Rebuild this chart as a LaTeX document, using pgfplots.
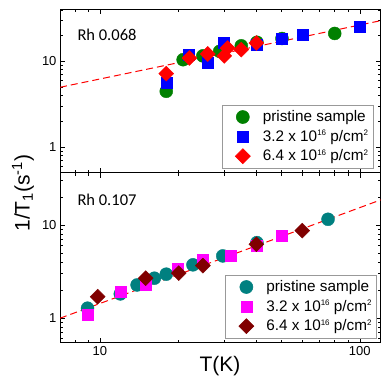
\documentclass[border=0pt]{standalone}
\usepackage{fontspec}
\setmainfont{Liberation Sans}
\newfontfamily\calib{Carlito}
\usepackage{pgfplots}
\pgfplotsset{compat=1.18}
\definecolor{cgreen}{RGB}{0,128,0}
\definecolor{cblue}{RGB}{0,0,255}
\definecolor{cred}{RGB}{255,0,0}
\definecolor{cteal}{RGB}{0,128,128}
\definecolor{cmag}{RGB}{255,0,255}
\definecolor{cbrown}{RGB}{128,0,0}
\newcommand{\sups}[1]{\raisebox{5.5pt}{\fontsize{8}{8}\selectfont #1}}
\pgfplotsset{
  myimg/.style={legend image code/.code={\path[draw=none,fill=none] (0pt,0pt) (36pt,0pt); \draw[##1] plot coordinates {(18pt,0pt)};}},
}
\begin{document}
\begin{tikzpicture}
\path[use as bounding box] (0pt,0pt) rectangle (392pt,-380pt);
\begin{axis}[at={(60pt,-9.3pt)}, anchor=north west,
    scale only axis, width=320.7pt, height=163.4pt,
    xmode=log, ymode=log,
    xmin=7.02, xmax=120.4, ymin=0.5, ymax=40.6,
    xtick={10,100}, xticklabels={}, minor xtick={7,8,9,20,30,40,50,60,70,80,90},
    ytick={1,10}, yticklabels={\mbox{1},\mbox{10}},
    minor ytick={0.5,0.6,0.7,0.8,0.9,2,3,4,5,6,7,8,9,20,30,40},
    tick align=inside, major tick length=5pt, minor tick length=3pt,
    axis line style={line width=0.8pt},
    tick style={black, line width=0.5pt},
    tick label style={font=\fontsize{13}{15}\selectfont},
    legend cell align=left,
    legend style={draw=gray!80, line width=0.6pt, font=\fontsize{15.3}{17}\selectfont,
      inner xsep=3pt, inner ysep=3.5pt, row sep=3pt, at={(0.977,0.027)}, anchor=south east}]
\addplot[cred, dash pattern=on 7pt off 4pt, line width=1pt, forget plot] coordinates {(7.02,4.98) (120.4,29.9)};
\addplot[only marks, myimg, mark=*, mark size=6.5pt, color=cgreen] coordinates {(18.0,4.47) (20.9,10.46) (24.9,11.6) (28.9,13.1) (35.0,15.2) (40.2,16.7) (50.2,18.5) (80.1,21.2)};
\addlegendentry{pristine sample}
\addplot[only marks, myimg, mark=square*, mark size=5.5pt, color=cblue] coordinates {(18.0,5.6) (21.9,12.0) (26.0,9.6) (29.9,16.4) (40.0,15.7) (50.0,18.3) (60.4,20.6) (100,25.6)};
\addlegendentry{3.2 x 10\sups{16} p/cm\sups{2}}
\addplot[only marks, myimg, mark=square*, mark size=5.3pt, mark options={rotate=45}, color=cred] coordinates {(18.0,7.2) (22.1,10.96) (26.0,12.2) (30.1,11.6) (31.0,14.3) (35.0,13.7) (40.0,16.4)};
\addlegendentry{6.4 x 10\sups{16} p/cm\sups{2}}
\node[anchor=west, inner sep=0pt, font=\calib\fontsize{16.5}{18}\selectfont] at (axis description cs:0.054,0.843) {Rh 0.068};
\end{axis}
\begin{axis}[at={(60pt,-172.7pt)}, anchor=north west,
    scale only axis, width=320.7pt, height=170pt,
    xmode=log, ymode=log,
    xmin=7.02, xmax=120.4, ymin=0.54, ymax=36.5,
    xtick={10,100}, xticklabels={\mbox{10},\mbox{100}}, minor xtick={7,8,9,20,30,40,50,60,70,80,90},
    ytick={1,10}, yticklabels={\mbox{1},\mbox{10}},
    minor ytick={0.6,0.7,0.8,0.9,2,3,4,5,6,7,8,9,20,30},
    tick align=inside, major tick length=5pt, minor tick length=3pt,
    axis line style={line width=0.8pt},
    tick style={black, line width=0.5pt},
    tick label style={font=\fontsize{13}{15}\selectfont},
    legend cell align=left,
    legend style={draw=gray!80, line width=0.6pt, font=\fontsize{15.3}{17}\selectfont,
      inner xsep=3pt, inner ysep=3.5pt, row sep=3pt, at={(0.988,0.026)}, anchor=south east}]
\addplot[cred, dash pattern=on 7pt off 4pt, line width=1pt, forget plot] coordinates {(7.02,0.99) (120.4,18.6)};
\addplot[only marks, myimg, mark=*, mark size=6.5pt, color=cteal] coordinates {(8.96,1.27) (11.98,1.81) (13.9,2.26) (16.2,2.67) (18.0,2.95) (22.8,3.72) (29.7,4.64) (40.2,6.45) (75.5,11.5)};
\addlegendentry{pristine sample}
\addplot[only marks, myimg, mark=square*, mark size=5.5pt, color=cmag] coordinates {(8.96,1.08) (12.0,1.89) (14.96,2.26) (19.9,3.42) (24.9,4.2) (31.8,4.68) (40.0,5.94) (49.9,7.67)};
\addlegendentry{3.2 x 10\sups{16} p/cm\sups{2}}
\addplot[only marks, myimg, mark=square*, mark size=5.3pt, mark options={rotate=45}, color=cbrown] coordinates {(9.8,1.69) (15.0,2.67) (20.1,3.03) (24.9,3.65) (40.0,6.2) (60.1,8.69)};
\addlegendentry{6.4 x 10\sups{16} p/cm\sups{2}}
\node[anchor=west, inner sep=0pt, font=\calib\fontsize{16.5}{18}\selectfont] at (axis description cs:0.054,0.839) {Rh 0.107};
\end{axis}
\node[rotate=90, font=\fontsize{21}{24}\selectfont] at (23pt,-193pt) {1/T\textsubscript{1}(s\textsuperscript{-1})};
\node[font=\fontsize{21}{24}\selectfont] at (220pt,-366pt) {T(K)};
\end{tikzpicture}
\end{document}
